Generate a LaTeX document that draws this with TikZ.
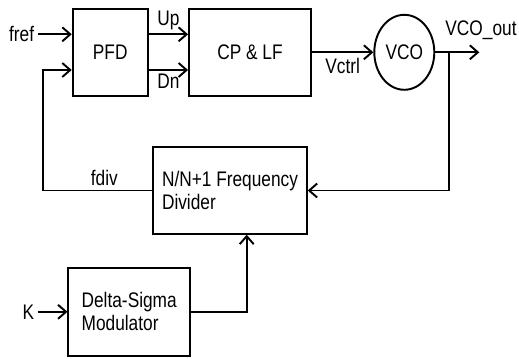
\documentclass[tikz,border=0pt]{standalone}
\usepackage{fontspec}
\setmainfont[FakeStretch=0.82]{Liberation Sans}
\usetikzlibrary{positioning,arrows.meta,shapes.geometric}
\tikzset{
  blk/.style ={draw, line width=1.1pt, minimum height=1.73cm, inner sep=2pt,
               font=\fontsize{12}{13}\selectfont},
  ar/.style  ={-{Straight Barb[length=1.6mm,width=2.8mm]}, line width=1.1pt},
  ln/.style  ={line width=1.1pt},
  lbl/.style ={font=\fontsize{12}{13}\selectfont, inner sep=2pt}
}
\begin{document}
\begin{tikzpicture}[x=0.02cm,y=-0.02cm]
\useasboundingbox (0,0) rectangle (519,358);
\node[blk, minimum width=1.5cm] (pfd) at (110.2,52.3) {PFD};
\node[blk, minimum width=2.44cm] (cplf) at (250,52.3) {CP \& LF};
\node[blk, ellipse, minimum width=1.2cm, minimum height=1.5cm,
      inner sep=0pt] (vco) at (404.3,52.3) {VCO};
\node[blk, minimum width=3.07cm, align=left] (div) at (230,190.5)
  {N/N+1 Frequency\\Divider};
\node[blk, minimum width=2.43cm, minimum height=1.77cm, align=left] (dsm)
  at (129.2,311.8) {Delta-Sigma\\Modulator};

% inputs on the left
\node[lbl, anchor=east] (fref) at (38,34.3) {fref};
\node[lbl, anchor=east] (k) at (38,311.8) {K};
\draw[ar] (fref.east) -- (fref.east -| pfd.west);
\draw[ar] (k.east) -- (dsm.west);

% forward path
\draw[ar] (pfd.east |- 0,34.3) -- node[lbl, above] {Up} (cplf.west |- 0,34.3);
\draw[ar] (pfd.east |- 0,70) -- node[lbl, below] {Dn} (cplf.west |- 0,70);
\draw[ar] (cplf.east) -- node[lbl, below=1pt] {Vctrl} (vco.west);
\coordinate (tap) at (449.3,52.3);
\coordinate (out) at (479.3,52.3);
\draw[ar] (vco.east) -- (out);
\node[lbl] (outlbl) at (481,30) {VCO\_out};

% feedback through the divider
\coordinate (fbk) at (43.3,70);
\draw[ar] (tap) |- (div.east);
\draw[ar] (div.west) -| node[lbl, above, pos=0.22] {fdiv} (fbk) -- (fbk -| pfd.west);
\draw[ar] (dsm.east) -| (div.south -| 246.7,0);
\end{tikzpicture}
\end{document}
